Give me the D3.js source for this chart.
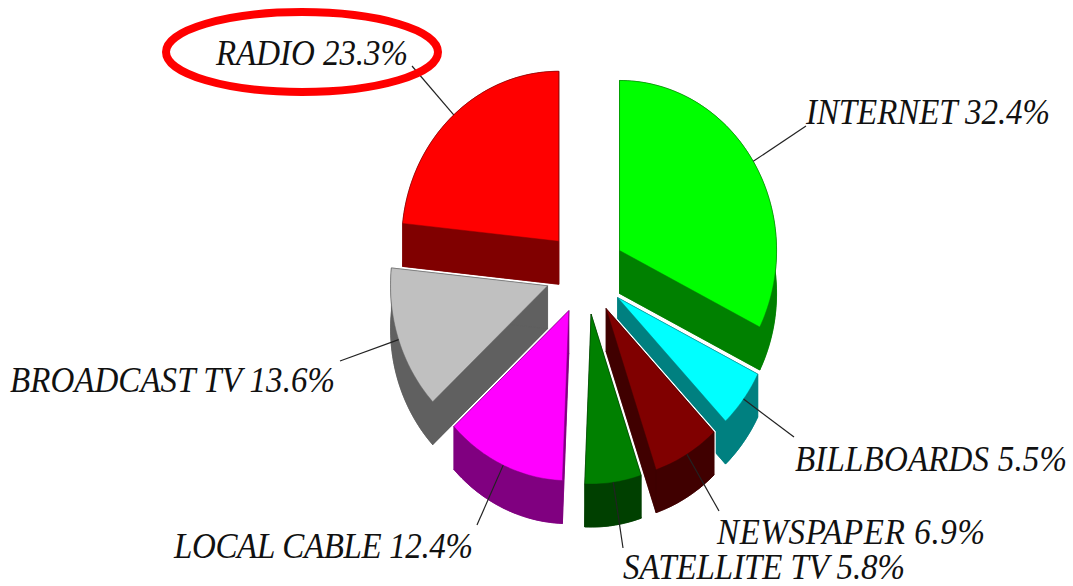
<!DOCTYPE html>
<html><head><meta charset="utf-8">
<style>html,body{margin:0;padding:0;background:#fff;overflow:hidden}svg{display:block}
text{font-family:"Liberation Serif","Times New Roman",serif;font-style:italic;font-size:33px;fill:#111}</style>
<script src="https://cdnjs.cloudflare.com/ajax/libs/d3/7.8.5/d3.min.js"></script>
</head><body><svg id="c" width="1073" height="586"></svg>
<script>
const categories=["INTERNET","BILLBOARDS","NEWSPAPER","SATELLITE TV","LOCAL CABLE","BROADCAST TV","RADIO"];
const shares=[32.4,5.5,6.9,5.8,12.4,13.6,23.3];
const topColors=["#00ff00","#00ffff","#800000","#008000","#ff00ff","#c0c0c0","#ff0000"];
const wallColors=["#008000","#008080","#400000","#004000","#800080","#606060","#800000"];
const drawOrder=["RADIO","INTERNET","BROADCAST TV","BILLBOARDS","LOCAL CABLE","NEWSPAPER","SATELLITE TV"];
// label layout, in page pixels: text left, baseline, text width, leader end x, y
const labelX=[806,795,717,623,174,10,216];
const labelY=[124,471,544,579,558,392,65];
const labelW=[244,272,268,282,299,325,192];
const leaderEndX=[806,794,719,623,477,340,412];
const leaderEndY=[126,437,511,548,525,361,66];

const svg=d3.select("#c");
// unit pie disc -> page pixels
const sx=d3.scaleLinear().domain([-1,1]).range([585.5-157,585.5+157]);
const sy=d3.scaleLinear().domain([-1,1]).range([272.5-170,272.5+170]);
const explodeX=40/157, explodeY=42/170, depth=43;
const arcs=d3.pie().sort(null).startAngle(0).endAngle(2*Math.PI)(shares);
const line=d3.line().x(d=>d[0]).y(d=>d[1]);
const slices=arcs.map((a,i)=>{
  const mid=(a.startAngle+a.endAngle)/2;
  const ox=Math.sin(mid)*explodeX, oy=-Math.cos(mid)*explodeY;
  const P=(ang,r)=>[sx(ox+r*Math.sin(ang)),sy(oy-r*Math.cos(ang))];
  const n=Math.max(8,Math.ceil((a.endAngle-a.startAngle)*40));
  const rim=d3.range(n+1).map(k=>P(a.startAngle+(a.endAngle-a.startAngle)*k/n,1));
  const apex=P(0,0);
  const dn=p=>[p[0],p[1]+depth];
  const wallA=[apex,rim[0],dn(rim[0]),dn(apex)];
  const wallB=[apex,rim[n],dn(rim[n]),dn(apex)];
  const band=rim.concat(rim.map(dn).reverse());
  const topFace=[apex,...rim];
  return {i,name:categories[i],share:shares[i],top:topFace,walls:[topFace.map(dn),wallA,wallB,band],anchor:P(mid,1)};
});
const ordered=drawOrder.map(n=>slices.find(s=>s.name===n));

const g=svg.selectAll("g.slice").data(ordered).join("g").attr("class","slice");
g.each(function(s){
  const el=d3.select(this);
  const closed=p=>line(p)+"Z";
  // white halo round the whole solid
  el.selectAll("path.halo").data([...s.walls,s.top]).join("path").attr("class","halo")
    .attr("d",closed).attr("fill","#fff").attr("stroke","#fff").attr("stroke-width",3).attr("stroke-linejoin","round");
  el.selectAll("path.wall").data(s.walls).join("path").attr("class","wall")
    .attr("d",closed).attr("fill",wallColors[s.i]).attr("stroke",wallColors[s.i]).attr("stroke-width",0.6);
  el.append("path").attr("d",closed(s.top)).attr("fill",topColors[s.i])
    .attr("stroke",wallColors[s.i]).attr("stroke-opacity",0.6).attr("stroke-width",0.8);
});

svg.selectAll("line.leader").data(slices).join("line").attr("class","leader")
  .attr("x1",s=>s.anchor[0]).attr("y1",s=>s.anchor[1])
  .attr("x2",s=>leaderEndX[s.i]).attr("y2",s=>leaderEndY[s.i])
  .attr("stroke","#222").attr("stroke-width",1.2);

svg.selectAll("text.lab").data(slices).join("text").attr("class","lab")
  .attr("transform",s=>`translate(${labelX[s.i]},${labelY[s.i]}) scale(1,1.09)`)
  .attr("textLength",s=>labelW[s.i]).attr("lengthAdjust","spacing")
  .text(s=>`${s.name} ${s.share.toFixed(1)}%`);

// red highlight ellipse round the RADIO label
svg.append("ellipse").attr("cx",302).attr("cy",52).attr("rx",136).attr("ry",40)
  .attr("fill","none").attr("stroke","#ff0000").attr("stroke-width",8);
</script></body></html>
